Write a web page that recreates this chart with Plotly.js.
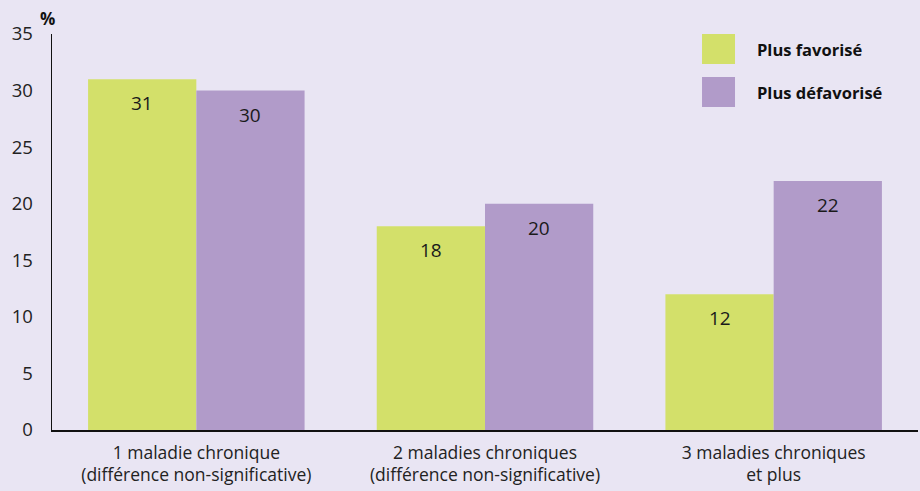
<!DOCTYPE html>
<html><head><meta charset="utf-8">
<script src="https://cdn.plot.ly/plotly-3.0.1.min.js"></script>
<style>html,body{margin:0;padding:0;background:#E9E5F3;}#chart{width:920px;height:491px;}</style>
</head><body><div id="chart"></div>
<script>
const categories = ["1 maladie chronique<br>(différence non-significative)", "2 maladies chroniques<br>(différence non-significative)", "3 maladies chroniques<br>et plus"];
const seriesNames = ["Plus favorisé", "Plus défavorisé"];
const favorise = [31, 18, 12];
const defavorise = [30, 20, 22];
const colors = ["#D3E06A", "#B19BC9"];
const FONT = "'Open Sans', Lato, sans-serif";

const traces = [favorise, defavorise].map((vals, i) => ({
  type: "bar", x: categories, y: vals, name: seriesNames[i],
  marker: {color: colors[i]}, hoverinfo: "none"
}));

const annotations = [];
[favorise, defavorise].forEach((vals, i) => {
  vals.forEach((v, j) => {
    annotations.push({x: categories[j], y: v, xref: "x", yref: "y", text: String(v),
      showarrow: false, xshift: i === 0 ? -54 : 54, yshift: -24,
      font: {family: FONT, size: 19, color: "#1a1a1a"}});
  });
});
annotations.push({x: 0, y: 1, xref: "paper", yref: "paper", text: "<b>%</b>", showarrow: false,
  xanchor: "center", yanchor: "bottom", yshift: 2, xshift: -5, font: {family: FONT, size: 17, color: "#111"}});

const shapes = [];
const legY = [[1.0, 0.9242], [0.8914, 0.8157]];
const legTextY = [0.9621, 0.8535];
seriesNames.forEach((n, i) => {
  shapes.push({type: "rect", xref: "paper", yref: "paper", x0: 0.7506, x1: 0.7887, y0: legY[i][1], y1: legY[i][0],
    fillcolor: colors[i], line: {width: 0}});
  annotations.push({x: 0.8118, y: legTextY[i], xref: "paper", yref: "paper", text: "<b>" + n + "</b>",
    showarrow: false, xanchor: "left", yanchor: "middle", font: {family: FONT, size: 16.5, color: "#111"}});
});

const layout = {
  width: 920, height: 491,
  margin: {l: 52, r: 2, t: 34, b: 61},
  paper_bgcolor: "#E9E5F3", plot_bgcolor: "#E9E5F3",
  barmode: "group", bargap: 0.25, bargroupgap: 0,
  showlegend: false,
  font: {family: FONT, color: "#222"},
  xaxis: {type: "category", showline: true, linecolor: "#111", linewidth: 1.5, ticks: "",
    tickfont: {family: FONT, size: 17.5, color: "#222"}, showgrid: false, zeroline: false, ticklabelstandoff: 6},
  yaxis: {range: [0, 35], dtick: 5, showline: true, linecolor: "#111", linewidth: 1.5, ticks: "",
    showgrid: false, zeroline: false, tickfont: {family: FONT, size: 18.5, color: "#222"}, ticklabelstandoff: 14},
  annotations: annotations, shapes: shapes
};
Plotly.newPlot("chart", traces, layout, {displayModeBar: false, staticPlot: true});
</script></body></html>
